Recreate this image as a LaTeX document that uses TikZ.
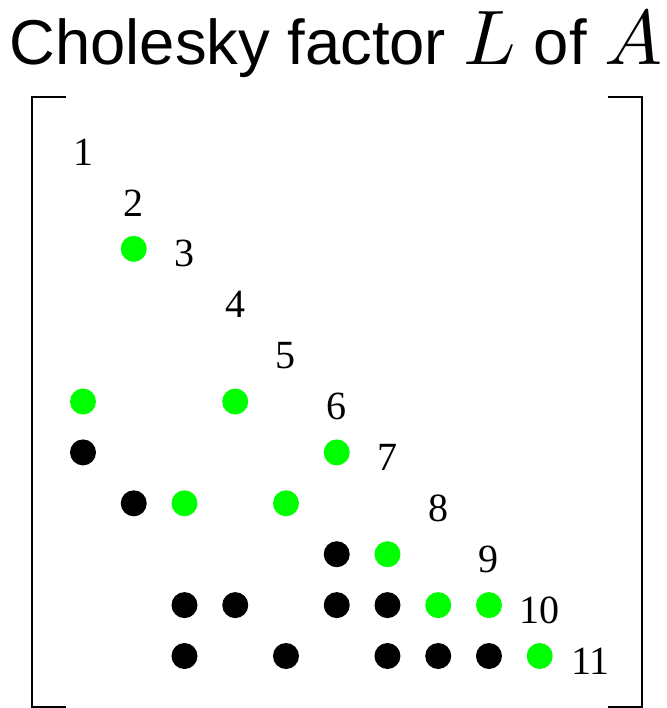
\documentclass[tikz,border=0pt]{standalone}
\usepackage{graphicx}
\usepackage{fontspec}
\setmainfont{Liberation Serif}
\newfontfamily\titlefont{Liberation Sans}
\usetikzlibrary{positioning}

\definecolor{fillgreen}{RGB}{0,255,0}
\newcommand{\bigmath}[1]{{\fontsize{10}{12}\selectfont\scalebox{5.8}{$#1$}}}

\tikzset{
  entry/.style={circle,inner sep=0pt,minimum size=19.5pt},
  newfill/.style={entry,fill=fillgreen},
  oldnz/.style={entry,fill=black},
  diaglabel/.style={font=\fontsize{30}{30}\selectfont,inner sep=0pt},
  brack/.style={line width=1.5pt,black}
}

\begin{document}
\begin{tikzpicture}[x=0.75pt,y=-0.75pt]
\useasboundingbox (0,0) rectangle (667,708);

% title
\node[anchor=base,inner sep=0pt] (title) at (336,64)
  {\titlefont\fontsize{47.5}{57}\selectfont Cholesky factor \bigmath{L} of \bigmath{A}};

% matrix brackets
\draw[brack] (66,97) -- (32,97) -- (32,707) -- (66,707);
\draw[brack] (608,97) -- (642,97) -- (642,707) -- (608,707);

\begin{scope}[shift={(83,147)},x=38.06pt,y=-38.175pt]
% diagonal
\foreach \i in {1,...,11}
  \node[diaglabel,yshift=-3.75pt] (n\i) at (\i-1,\i-1) {\i};
% fill-in
\foreach \r/\c in {3/2,6/1,6/4,7/6,8/3,8/5,9/7,10/8,10/9,11/10}
  \node[newfill] (g-\r-\c) at (\c-1,\r-1) {};
% nonzeros of A
\foreach \r/\c in {7/1,8/2,9/6,10/3,10/4,10/6,10/7,11/3,11/5,11/7,11/8,11/9}
  \node[oldnz] (b-\r-\c) at (\c-1,\r-1) {};
\end{scope}
\end{tikzpicture}
\end{document}
